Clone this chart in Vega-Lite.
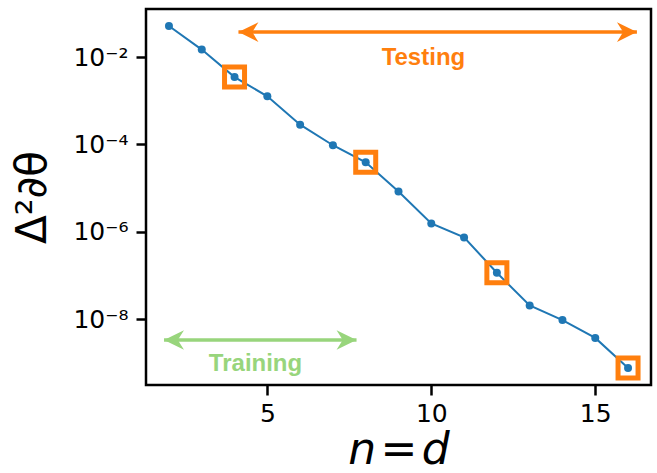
{
  "$schema": "https://vega.github.io/schema/vega-lite/v6.json",
  "width": 505,
  "height": 376,
  "autosize": {"type": "none"},
  "padding": {"left": 146, "top": 9, "right": 6, "bottom": 88},
  "background": "white",
  "config": {
    "view": {"stroke": "black", "strokeWidth": 2.5},
    "axis": {
      "grid": false,
      "domain": false,
      "ticks": true,
      "tickColor": "black",
      "tickWidth": 2.5,
      "tickSize": 10,
      "labelFont": "DejaVu Sans",
      "labelFontSize": 25,
      "labelColor": "black",
      "titleColor": "black",
      "titleFont": "DejaVu Sans",
      "titleFontWeight": "normal"
    }
  },
  "datasets": {
    "main": [
      {"x": 2, "y": 0.0513},
      {"x": 3, "y": 0.0148},
      {"x": 4, "y": 0.00347},
      {"x": 5, "y": 0.00126},
      {"x": 6, "y": 0.000282},
      {"x": 7, "y": 0.0000955},
      {"x": 8, "y": 0.0000389},
      {"x": 9, "y": 0.0000083},
      {"x": 10, "y": 0.00000155},
      {"x": 11, "y": 0.00000074},
      {"x": 12, "y": 0.000000115},
      {"x": 13, "y": 0.0000000204},
      {"x": 14, "y": 0.0000000095},
      {"x": 15, "y": 0.0000000037},
      {"x": 16, "y": 0.00000000076}
    ],
    "arrows": [
      {"group": "Testing", "x": 4.12, "x2": 16.27, "y": 0.0372},
      {"group": "Training", "x": 1.85, "x2": 7.72, "y": 0.0000000033}
    ],
    "heads": [
      {"group": "Testing", "side": "left", "x": 4.12, "y": 0.0372},
      {"group": "Testing", "side": "right", "x": 16.27, "y": 0.0372},
      {"group": "Training", "side": "left", "x": 1.85, "y": 0.0000000033},
      {"group": "Training", "side": "right", "x": 7.72, "y": 0.0000000033}
    ],
    "labels": [
      {"group": "Testing", "x": 9.76, "y": 0.00646, "text": "Testing"},
      {"group": "Training", "x": 4.64, "y": 0.00000000063, "text": "Training"}
    ]
  },
  "encoding": {
    "x": {
      "field": "x",
      "type": "quantitative",
      "scale": {"domain": [1.3, 16.7], "nice": false, "zero": false},
      "axis": {
        "values": [5, 10, 15],
        "labelPadding": 6,
        "title": "n\u200a=\u200ad",
        "titleFontSize": 44,
        "titleFontStyle": "italic",
        "titlePadding": 2
      }
    },
    "y": {
      "field": "y",
      "type": "quantitative",
      "scale": {"type": "log", "domain": [3.09e-10, 0.1259], "nice": false},
      "axis": {
        "values": [1e-8, 1e-6, 1e-4, 1e-2],
        "labelExpr": "datum.value < 1e-7 ? '10⁻⁸' : datum.value < 1e-5 ? '10⁻⁶' : datum.value < 1e-3 ? '10⁻⁴' : '10⁻²'",
        "labelPadding": 8,
        "title": "Δ²∂θ",
        "titleFontSize": 42,
        "titlePadding": 18
      }
    }
  },
  "layer": [
    {
      "data": {"name": "main"},
      "mark": {"type": "line", "color": "#1f77b4", "strokeWidth": 2}
    },
    {
      "data": {"name": "main"},
      "mark": {"type": "point", "shape": "circle", "filled": true, "opacity": 1, "color": "#1f77b4", "size": 64}
    },
    {
      "data": {"name": "main"},
      "transform": [{"filter": "datum.x == 4 || datum.x == 8 || datum.x == 12 || datum.x == 16"}],
      "mark": {"type": "point", "shape": "square", "filled": false, "opacity": 1, "color": "#ff7f0e", "strokeWidth": 5, "size": 400}
    },
    {
      "data": {"name": "arrows"},
      "mark": {"type": "rule", "strokeWidth": 3.5},
      "encoding": {
        "x2": {"field": "x2"},
        "color": {"field": "group", "type": "nominal", "scale": {"domain": ["Testing", "Training"], "range": ["#ff7f0e", "#98d57c"]}, "legend": null}
      }
    },
    {
      "data": {"name": "heads"},
      "transform": [{"filter": "datum.side == 'left'"}],
      "mark": {"type": "point", "shape": "M0,0L2.1,-1.03L1.45,0L2.1,1.03Z", "filled": true, "opacity": 1, "size": 361, "strokeWidth": 0},
      "encoding": {
        "color": {"field": "group", "type": "nominal", "scale": {"domain": ["Testing", "Training"], "range": ["#ff7f0e", "#98d57c"]}, "legend": null}
      }
    },
    {
      "data": {"name": "heads"},
      "transform": [{"filter": "datum.side == 'right'"}],
      "mark": {"type": "point", "shape": "M0,0L-2.1,-1.03L-1.45,0L-2.1,1.03Z", "filled": true, "opacity": 1, "size": 361, "strokeWidth": 0},
      "encoding": {
        "color": {"field": "group", "type": "nominal", "scale": {"domain": ["Testing", "Training"], "range": ["#ff7f0e", "#98d57c"]}, "legend": null}
      }
    },
    {
      "data": {"name": "labels"},
      "mark": {"type": "text", "font": "Liberation Sans", "fontWeight": "bold", "fontSize": 24, "align": "center", "baseline": "alphabetic"},
      "encoding": {
        "text": {"field": "text"},
        "color": {"field": "group", "type": "nominal", "scale": {"domain": ["Testing", "Training"], "range": ["#ff7f0e", "#98d57c"]}, "legend": null}
      }
    }
  ]
}
